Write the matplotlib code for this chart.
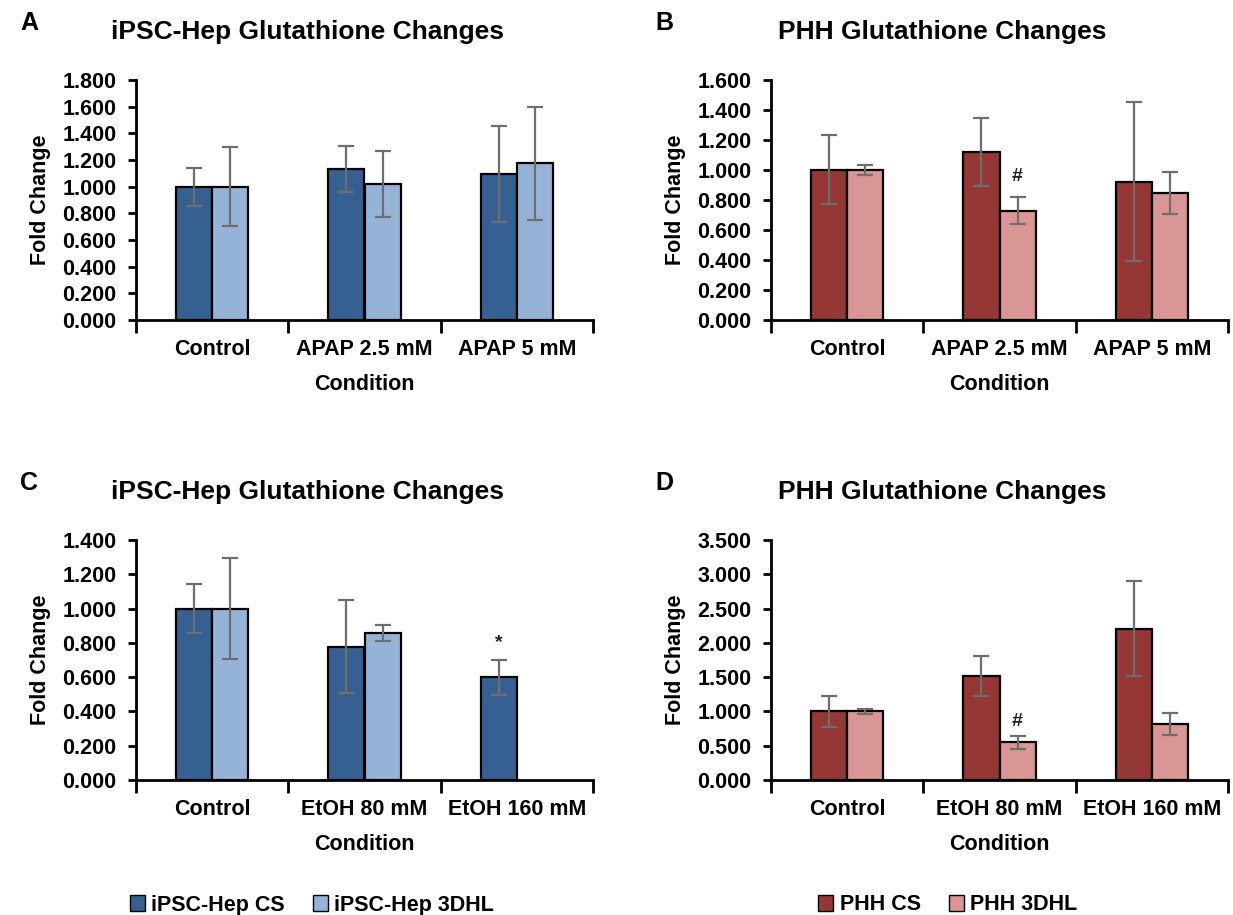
import numpy as np
import matplotlib.pyplot as plt
from matplotlib.patches import Patch

plt.rcParams['font.family'] = ['Liberation Sans', 'DejaVu Sans']
plt.rcParams['font.weight'] = 'bold'

apap_conditions = ["Control", "APAP 2.5 mM", "APAP 5 mM"]
etoh_conditions = ["Control", "EtOH 80 mM", "EtOH 160 mM"]

# panel A - iPSC-Hep, APAP
a_cs = [1.00, 1.135, 1.097]
a_cs_err = [0.143, 0.172, 0.36]
a_3d = [1.00, 1.02, 1.177]
a_3d_err = [0.295, 0.249, 0.424]

# panel B - PHH, APAP
b_cs = [1.00, 1.12, 0.922]
b_cs_err = [0.23, 0.228, 0.528]
b_3d = [1.00, 0.727, 0.849]
b_3d_err = [0.032, 0.09, 0.14]

# panel C - iPSC-Hep, EtOH
c_cs = [1.00, 0.777, 0.598]
c_cs_err = [0.141, 0.272, 0.10]
c_3d = [1.00, 0.859, np.nan]
c_3d_err = [0.294, 0.047, np.nan]

# panel D - PHH, EtOH
d_cs = [1.00, 1.515, 2.205]
d_cs_err = [0.228, 0.288, 0.69]
d_3d = [1.00, 0.547, 0.815]
d_3d_err = [0.035, 0.10, 0.156]

blue_dark = "#366092"
blue_light = "#95b3d7"
red_dark = "#953735"
red_light = "#da9694"
err_col = "#6e6e6e"

W, H = 1233, 915
fig = plt.figure(figsize=(W / 100, H / 100), dpi=100)


def panel(rect, letter, title, cats, cs, cs_err, d3, d3_err, ymax, ystep, c1, c2, marks):
    ax = fig.add_axes(rect)
    x = np.arange(1, len(cats) + 1)
    bw = 0.237
    ax.bar(x - bw / 2, cs, bw, color=c1, edgecolor="black", linewidth=1.6, zorder=2)
    ax.bar(x + bw / 2, d3, bw, color=c2, edgecolor="black", linewidth=1.6, zorder=2)
    ax.errorbar(x - bw / 2, cs, yerr=cs_err, fmt="none", ecolor=err_col, elinewidth=1.6,
                capsize=6, capthick=1.6, zorder=3)
    ax.errorbar(x + bw / 2, d3, yerr=d3_err, fmt="none", ecolor=err_col, elinewidth=1.6,
                capsize=6, capthick=1.6, zorder=3)
    for (i, side, yv, s) in marks:
        xx = x[i] + (bw / 2 if side else -bw / 2)
        ax.text(xx, yv, s, ha="center", va="center", fontsize=14, color="#222222")
    ax.set_xlim(0.5, len(cats) + 0.5)
    ax.set_ylim(0, ymax)
    ax.set_yticks(np.arange(0, ymax + ystep / 2, ystep))
    ax.yaxis.set_major_formatter(plt.FormatStrFormatter("%.3f"))
    ax.set_xticks(np.arange(0.5, len(cats) + 1, 1))
    ax.set_xticklabels([])
    ax.set_xticks(x, minor=True)
    ax.set_xticklabels(cats, minor=True)
    ax.tick_params(axis="x", which="major", length=9, width=2)
    ax.tick_params(axis="x", which="minor", length=0, pad=14, labelsize=15.5)
    ax.tick_params(axis="y", length=6, width=2, labelsize=15.5, pad=8)
    for sp in ["top", "right"]:
        ax.spines[sp].set_visible(False)
    for sp in ["left", "bottom"]:
        ax.spines[sp].set_linewidth(2)
    ax.set_xlabel("Condition", fontsize=15.5, fontweight="bold", labelpad=10)
    ax.set_ylabel("Fold Change", fontsize=15.5, fontweight="bold", labelpad=8)
    top = rect[1] + rect[3]
    fig.text(rect[0] + rect[2] * 0.375, top + 0.052, title, ha="center", va="center",
             fontsize=19, fontweight="bold")
    fig.text(rect[0] - 0.094, top + 0.062, letter, ha="left", va="center",
             fontsize=18, fontweight="bold")
    return ax


aw = 457 / W
ah = 240 / H
panel([136 / W, 1 - 320 / H, aw, ah], "A", "iPSC-Hep Glutathione Changes",
      apap_conditions, a_cs, a_cs_err, a_3d, a_3d_err, 1.8, 0.2, blue_dark, blue_light, [])
panel([771 / W, 1 - 320 / H, aw, ah], "B", "PHH Glutathione Changes",
      apap_conditions, b_cs, b_cs_err, b_3d, b_3d_err, 1.6, 0.2, red_dark, red_light,
      [(1, True, 0.955, "#")])
panel([136 / W, 1 - 780 / H, aw, ah], "C", "iPSC-Hep Glutathione Changes",
      etoh_conditions, c_cs, c_cs_err, c_3d, c_3d_err, 1.4, 0.2, blue_dark, blue_light,
      [(2, False, 0.80, "*")])
panel([771 / W, 1 - 780 / H, aw, ah], "D", "PHH Glutathione Changes",
      etoh_conditions, d_cs, d_cs_err, d_3d, d_3d_err, 3.5, 0.5, red_dark, red_light,
      [(1, True, 0.86, "#")])

h1 = [Patch(facecolor=blue_dark, edgecolor="black"), Patch(facecolor=blue_light, edgecolor="black")]
fig.legend(h1, ["iPSC-Hep CS", "iPSC-Hep 3DHL"], loc="center", bbox_to_anchor=(312 / W, 1 - 905 / H),
           ncol=2, frameon=False, fontsize=15.5, handlelength=0.7, handleheight=0.7,
           handletextpad=0.3, columnspacing=1.3)
h2 = [Patch(facecolor=red_dark, edgecolor="black"), Patch(facecolor=red_light, edgecolor="black")]
fig.legend(h2, ["PHH CS", "PHH 3DHL"], loc="center", bbox_to_anchor=(948 / W, 1 - 905 / H),
           ncol=2, frameon=False, fontsize=15.5, handlelength=0.7, handleheight=0.7,
           handletextpad=0.3, columnspacing=1.3)

fig.savefig("out.png", dpi=100)
